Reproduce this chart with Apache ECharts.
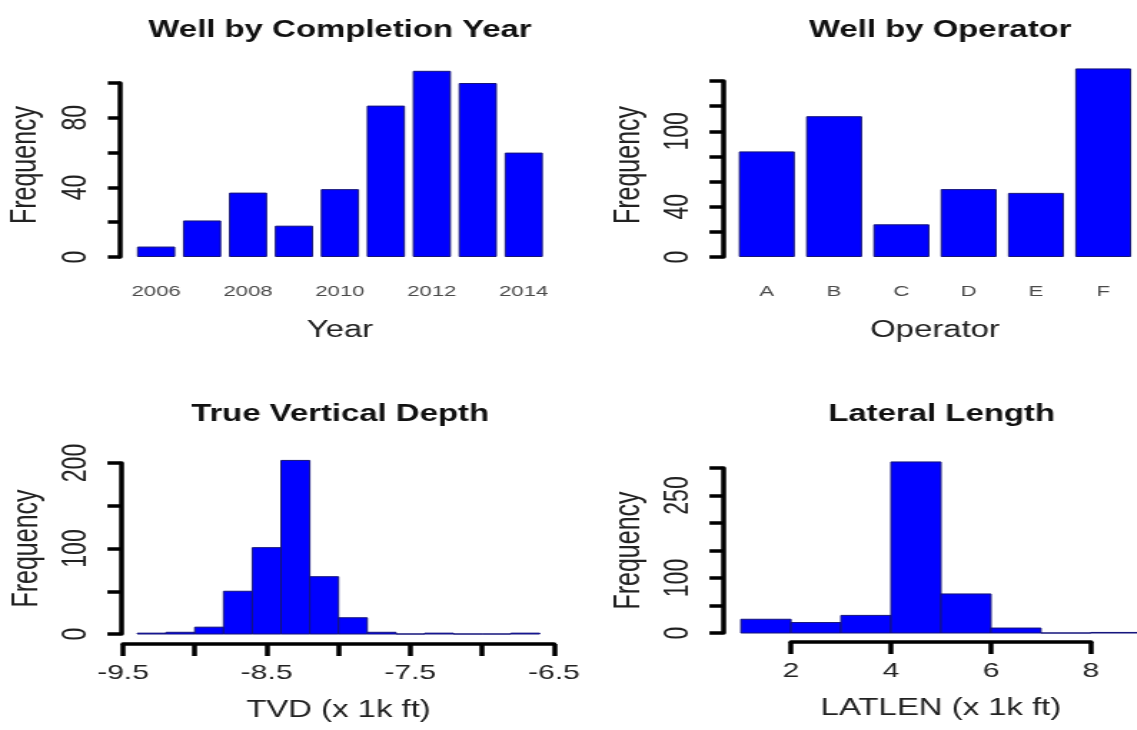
<!DOCTYPE html>
<html>
<head>
<meta charset="utf-8">
<script src="https://cdn.jsdelivr.net/npm/echarts@6/dist/echarts.min.js"></script>
<style>
  html, body { margin: 0; padding: 0; background: #fff; overflow: hidden; }
  /* the figure is drawn narrow and widened horizontally, giving its wide lettering */
  #chart { width: 795px; height: 730px; transform: scaleX(1.43); transform-origin: 0 0; }
</style>
</head>
<body>
<div id="chart"></div>
<script>
// ---- data ----
const years = ['2006', '2007', '2008', '2009', '2010', '2011', '2012', '2013', '2014'];
const yearCounts = [6, 21, 37, 18, 39, 87, 107, 100, 60];

const operators = ['A', 'B', 'C', 'D', 'E', 'F'];
const operatorCounts = [84, 112, 26, 54, 51, 150];

// TVD histogram, bins of 0.2 (x 1k ft)
const tvdBinStarts = [-9.4, -9.2, -9.0, -8.8, -8.6, -8.4, -8.2, -8.0, -7.8, -7.6, -7.4, -7.2, -7.0, -6.8];
const tvdCounts    = [1, 2, 8, 50, 101, 203, 67, 19, 2, 0, 1, 0, 0, 1];
const tvdBinWidth = 0.2;

// Lateral length histogram, bins of 1 (x 1k ft)
const latBinStarts = [1, 2, 3, 4, 5, 6, 7, 8];
const latCounts    = [25, 19, 32, 311, 71, 9, 0, 1];
const latBinWidth = 1;

// tick labels that are printed (the rest of the ticks stay bare)
const yearYLabels = [0, 40, 80];
const opYLabels = [0, 40, 100];
const tvdYLabels = [0, 100, 200];
const latYLabels = [0, 100, 250];
const tvdXLabels = [-9.5, -8.5, -7.5, -6.5];
const latXLabels = [2, 4, 6, 8];

// ---- styling helpers ----
const FONT = '"Liberation Sans", Arial, Helvetica, sans-serif';
const BAR_FILL = '#0000ff';
const BAR_EDGE = '#14147a';
const AXIS_W = 3.5;

function pick(list) {
  return function (v) {
    return list.some(t => Math.abs(t - v) < 1e-9) ? String(v) : '';
  };
}

function freqAxis(grid, max, step, offset, labels, tickLen, namePad) {
  return {
    type: 'value', gridIndex: grid, min: 0, max: max, interval: step, offset: offset,
    axisLine: { show: true, lineStyle: { color: '#000', width: AXIS_W } },
    axisTick: { show: true, length: tickLen, lineStyle: { color: '#000', width: AXIS_W } },
    axisLabel: { rotate: 90, margin: 19, fontSize: 23, color: '#222', fontFamily: FONT, formatter: pick(labels) },
    splitLine: { show: false },
    name: 'Frequency', nameLocation: 'middle', nameGap: 53,
    nameTextStyle: { fontSize: 25, color: '#222', fontFamily: FONT, padding: [0, 0, 0, namePad] }
  };
}

function categoryAxis(grid, data, name) {
  return {
    type: 'category', gridIndex: grid, data: data,
    axisLine: { show: false }, axisTick: { show: false },
    axisLabel: { interval: name === 'Year' ? 1 : 0, margin: 27, fontSize: 15.5, color: '#4a4a4a', fontFamily: FONT },
    name: name, nameLocation: 'middle', nameGap: 62,
    nameTextStyle: { fontSize: 23, color: '#222', fontFamily: FONT }
  };
}

function valueXAxis(grid, min, max, step, offset, labels, name) {
  return {
    type: 'value', gridIndex: grid, min: min, max: max, interval: step, offset: offset,
    axisLine: { show: true, onZero: false, lineStyle: { color: '#000', width: AXIS_W } },
    axisTick: { show: true, length: 12, lineStyle: { color: '#000', width: AXIS_W } },
    axisLabel: { margin: 19, fontSize: 21, color: '#222', fontFamily: FONT, formatter: pick(labels),
                 showMinLabel: true, showMaxLabel: true },
    splitLine: { show: false },
    name: name, nameLocation: 'middle', nameGap: 55,
    nameTextStyle: { fontSize: 23, color: '#222', fontFamily: FONT }
  };
}

function histItem(params, api) {
  const x0 = api.value(0), x1 = api.value(1), n = api.value(2);
  const a = api.coord([x0, 0]);
  const b = api.coord([x1, n]);
  return {
    type: 'rect',
    shape: { x: a[0], y: b[1], width: b[0] - a[0], height: a[1] - b[1] },
    style: { fill: BAR_FILL, stroke: BAR_EDGE, lineWidth: 1 }
  };
}

const tvdData = tvdBinStarts.map((s, i) => [s, +(s + tvdBinWidth).toFixed(2), tvdCounts[i]]);
const latData = latBinStarts.map((s, i) => [s, s + latBinWidth, latCounts[i]]);

function title(text, x, y) {
  return {
    text: text, left: x, top: y, textAlign: 'center', padding: 0,
    textStyle: { fontSize: 23, fontWeight: 'bold', color: '#111', fontFamily: FONT }
  };
}

const chart = echarts.init(document.getElementById('chart'), null, { renderer: 'canvas' });
chart.setOption({
  backgroundColor: '#ffffff',
  animation: false,
  textStyle: { fontFamily: FONT },
  title: [
    title('Well by Completion Year', 237.8, 19),
    title('Well by Operator', 657.5, 19),
    title('True Vertical Depth', 237.8, 403),
    title('Lateral Length', 658.5, 403)
  ],
  grid: [
    { left: 93.1, top: 83, width: 289.2, height: 174 },
    { left: 512.7, top: 81, width: 291.6, height: 176 },
    { left: 86.0, top: 463, width: 301.4, height: 171 },
    { left: 553.1, top: 468, width: 209.8, height: 165 }
  ],
  xAxis: [
    categoryAxis(0, years, 'Year'),
    categoryAxis(1, operators, 'Operator'),
    valueXAxis(2, -9.5, -6.5, 0.5, 10, tvdXLabels, 'TVD (x 1k ft)'),
    valueXAxis(3, 2, 8, 2, 9, latXLabels, 'LATLEN (x 1k ft)')
  ],
  yAxis: [
    freqAxis(0, 100, 20, 9.2, yearYLabels, 8.5, 10),
    freqAxis(1, 140, 20, 7.1, opYLabels, 9.5, 8),
    freqAxis(2, 200, 50, 1.4, tvdYLabels, 9.5, 0),
    freqAxis(3, 300, 50, 47.5, latYLabels, 9.5, 0)
  ],
  series: [
    {
      type: 'bar', xAxisIndex: 0, yAxisIndex: 0, data: yearCounts, barWidth: '83.3%', clip: false,
      itemStyle: { color: BAR_FILL, borderColor: BAR_EDGE, borderWidth: 1 }
    },
    {
      type: 'bar', xAxisIndex: 1, yAxisIndex: 1, data: operatorCounts, barWidth: '83.3%', clip: false,
      itemStyle: { color: BAR_FILL, borderColor: BAR_EDGE, borderWidth: 1 }
    },
    {
      type: 'custom', xAxisIndex: 2, yAxisIndex: 2, data: tvdData, clip: false,
      encode: { x: [0, 1], y: 2 }, renderItem: histItem
    },
    {
      type: 'custom', xAxisIndex: 3, yAxisIndex: 3, data: latData, clip: false,
      encode: { x: [0, 1], y: 2 }, renderItem: histItem
    }
  ]
});
</script>
</body>
</html>
